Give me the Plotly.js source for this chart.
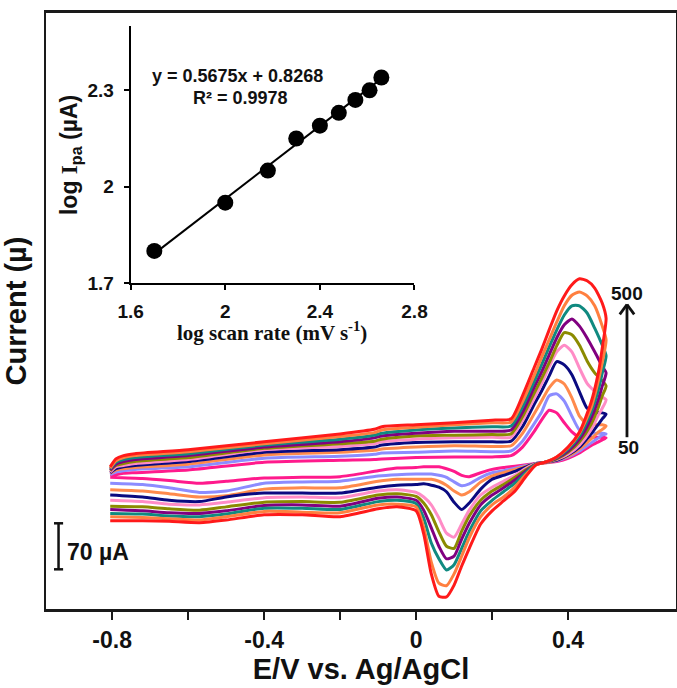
<!DOCTYPE html>
<html>
<head>
<meta charset="utf-8">
<script src="https://cdn.plot.ly/plotly-3.0.1.min.js"></script>
<style>
  html, body { margin: 0; padding: 0; background: #ffffff; }
  #cv { width: 677px; height: 688px; }
</style>
</head>
<body>
<div id="cv"></div>
<script>
// ---- Cyclic voltammograms at scan rates 50-500 mV/s ----
// Potential (V vs. Ag/AgCl): forward (anodic) sweep, then reverse sweep
const potentialForward = [-0.805, -0.79, -0.77, -0.74, -0.6, -0.4, -0.2, -0.11, -0.09, 0.0, 0.1, 0.2,
                          0.25, 0.28, 0.31, 0.33, 0.35, 0.37, 0.39, 0.41, 0.43, 0.45, 0.47, 0.49, 0.5];
const potentialReverse = [0.49, 0.48, 0.46, 0.43, 0.40, 0.37, 0.34, 0.316, 0.29, 0.26, 0.23, 0.2,
                          0.17, 0.14, 0.12, 0.10, 0.08, 0.06, 0.04, 0.02, 0.0,
                          -0.05, -0.1, -0.2, -0.3, -0.4, -0.5, -0.57, -0.65, -0.72, -0.805];

const scanRates = [50, 100, 150, 200, 250, 300, 350, 400, 450, 500];
const lineColors = ['#FF1A8C', '#8C8CFF', '#FF8A4C', '#0A0A80', '#FF8CC6',
                    '#8B8B00', '#800080', '#108A80', '#FF7F3F', '#FF1A1A'];

// Current (µA) on the forward and reverse sweeps
const fwd50  = [-19, -17, -15, -14, -10, 2, 5, 6, 7, 9, 10, 10, 12, 25, 48, 66, 81, 77, 62, 48, 40, 40, 40, 40, 39];
const rev50  = [36, 33, 27, 16, 8, 3, 1, 0, -2, -4, -6, -9, -14, -20, -18, -12, -8, -5, -5, -5, -6, -7, -11, -20, -21, -22, -27, -30, -26, -23, -21];
const fwd100 = [-17, -13, -11, -9, -5, 8, 11, 14, 16, 17, 19, 18, 19, 34, 60, 78, 103, 106, 95, 72, 51, 48, 46, 46, 45];
const rev100 = [43, 39, 31, 19, 10, 4, 1, 0, -3, -7, -11, -14, -21, -31, -34, -28, -21, -18, -16, -16, -16, -17, -19, -27, -28, -30, -42, -44, -37, -32, -30];
const fwd150 = [-15, -10, -8, -6, -1, 13, 17, 20, 22, 25, 27, 26, 27, 46, 75, 95, 115, 127, 121, 100, 72, 60, 59, 59, 57];
const rev150 = [52, 48, 37, 22, 11, 5, 1, 0, -4, -9, -14, -19, -28, -43, -48, -42, -33, -27, -24, -24, -24, -24, -27, -37, -37, -39, -49, -51, -46, -42, -40];
const fwd200 = [-14, -8, -5, -3, 3, 17, 21, 25, 28, 32, 33, 33, 34, 56, 89, 110, 133, 155, 150, 135, 109, 84, 78, 77, 75];
const rev200 = [68, 60, 45, 25, 13, 5, 2, 0, -5, -12, -18, -24, -39, -60, -70, -59, -43, -36, -33, -31, -32, -33, -36, -45, -45, -45, -51, -58, -56, -51, -48];
const fwd250 = [-13, -5, -3, 0, 6, 21, 26, 30, 33, 37, 39, 40, 40, 65, 98, 121, 147, 170, 180, 170, 145, 122, 110, 101, 97];
const rev250 = [84, 74, 51, 28, 14, 6, 2, 0, -7, -18, -27, -36, -48, -71, -92, -112, -106, -83, -63, -51, -44, -40, -42, -52, -51, -52, -59, -63, -62, -58, -56];
const fwd300 = [-11, -3, 0, 3, 9, 23, 30, 34, 37, 42, 43, 44, 45, 71, 106, 129, 153, 179, 199, 196, 180, 156, 138, 126, 118];
const rev300 = [103, 86, 59, 33, 17, 7, 2, -1, -9, -21, -32, -42, -56, -80, -103, -129, -126, -104, -78, -60, -50, -46, -48, -59, -58, -59, -66, -71, -69, -66, -65];
const fwd350 = [-10, -1, 3, 6, 12, 25, 33, 39, 42, 46, 49, 49, 51, 78, 115, 139, 165, 191, 211, 220, 209, 191, 170, 148, 138];
const rev350 = [118, 98, 68, 37, 19, 8, 2, -1, -11, -25, -37, -48, -63, -91, -115, -141, -145, -126, -98, -71, -56, -51, -53, -65, -63, -64, -72, -76, -75, -72, -70];
const fwd400 = [-8, 2, 6, 9, 15, 28, 37, 43, 46, 51, 54, 56, 57, 86, 124, 150, 177, 203, 226, 240, 240, 229, 206, 180, 164];
const rev400 = [138, 113, 77, 42, 22, 9, 2, -1, -13, -30, -43, -56, -72, -103, -129, -154, -162, -145, -121, -83, -61, -56, -58, -70, -68, -68, -77, -81, -80, -77, -76];
const fwd450 = [-7, 4, 9, 12, 18, 30, 41, 47, 51, 55, 59, 62, 63, 94, 133, 161, 188, 215, 240, 256, 261, 255, 240, 209, 188];
const rev450 = [154, 127, 84, 46, 24, 10, 2, -2, -16, -36, -51, -63, -81, -113, -141, -168, -186, -182, -150, -97, -66, -62, -63, -75, -74, -73, -81, -86, -84, -82, -81];
const fwd500 = [-5, 7, 12, 15, 21, 33, 45, 52, 56, 59, 62, 66, 68, 103, 145, 173, 203, 232, 255, 272, 281, 278, 267, 244, 221];
const rev500 = [176, 139, 92, 48, 25, 10, 2, -2, -19, -42, -57, -72, -92, -129, -156, -185, -203, -202, -168, -107, -72, -66, -69, -81, -78, -78, -86, -90, -88, -87, -87];

// ---- Inset: log peak current vs log scan rate ----
const logScanRate = [1.70, 2.00, 2.18, 2.30, 2.40, 2.48, 2.55, 2.61, 2.66];
const logIpa      = [1.80, 1.95, 2.05, 2.15, 2.19, 2.23, 2.27, 2.30, 2.34];
const fitSlope = 0.5675;
const fitIntercept = 0.8268;
const fitR2 = 0.9978;

// Scale bar (µA)
const scaleBarSize = 70;
const scaleBarTop = -91;

// Tick labels
const mainTicks = [-0.8, -0.4, 0, 0.4];
const mainMinorTicks = [-0.6, -0.2, 0.2];
const insetXTicks = [1.6, 2, 2.4, 2.8];
const insetYTicks = [1.7, 2, 2.3];

const forwardSets = [fwd50, fwd100, fwd150, fwd200, fwd250, fwd300, fwd350, fwd400, fwd450, fwd500];
const reverseSets = [rev50, rev100, rev150, rev200, rev250, rev300, rev350, rev400, rev450, rev500];

const SANS = 'Liberation Sans, Arial, sans-serif';
const SERIF = 'Liberation Serif, Times New Roman, serif';
const INK = '#111111';

const traces = [];
scanRates.forEach((rate, i) => {
  traces.push({
    type: 'scatter', mode: 'lines',
    name: rate + ' mV/s',
    x: potentialForward.concat(potentialReverse),
    y: forwardSets[i].concat(reverseSets[i]),
    xaxis: 'x', yaxis: 'y',
    line: { color: lineColors[i], width: 3, shape: 'spline', smoothing: 0.6 },
    hoverinfo: 'skip'
  });
});

// Regression line of the inset
const fitX = [logScanRate[0], logScanRate[logScanRate.length - 1]];
traces.push({
  type: 'scatter', mode: 'lines',
  x: fitX, y: fitX.map(v => fitSlope * v + fitIntercept),
  xaxis: 'x2', yaxis: 'y2',
  line: { color: '#000', width: 2 }, hoverinfo: 'skip'
});
traces.push({
  type: 'scatter', mode: 'markers',
  x: logScanRate, y: logIpa,
  xaxis: 'x2', yaxis: 'y2',
  marker: { color: '#000', size: 16 }, hoverinfo: 'skip'
});

// scale bar and scan-rate arrow geometry (data units)
const barX = -0.941, capHalf = 0.012;
const barLine = { color: INK, width: 2.5 };
const arrowX = 0.555, arrowTail = 40, arrowHead = 242, headHalf = 0.019, headDrop = 15;
const arrowLine = { color: INK, width: 2.8 };

const layout = {
  width: 677, height: 688,
  margin: { l: 46, r: 1, t: 13, b: 79 },
  paper_bgcolor: '#ffffff', plot_bgcolor: 'rgba(0,0,0,0)',
  showlegend: false,
  font: { family: SANS, color: INK, weight: 'bold' },
  xaxis: {
    range: [-0.974, 0.684], showgrid: false, zeroline: false,
    showline: true, mirror: true, linecolor: '#1a1a1a', linewidth: 3,
    ticks: 'outside', ticklen: 8, tickwidth: 2.5, tickcolor: '#1a1a1a',
    tickmode: 'array', tickvals: mainTicks, ticktext: mainTicks.map(v => v === 0 ? '0' : v.toFixed(1)),
    minor: { tickmode: 'array', tickvals: mainMinorTicks, ticks: 'outside', ticklen: 8, tickwidth: 2.5, tickcolor: '#1a1a1a' },
    tickfont: { family: SANS, size: 23, weight: 'bold', color: INK },
    ticklabelstandoff: 0,
    title: { text: 'E/V vs. Ag/AgCl', font: { family: SANS, size: 29, weight: 'bold', color: INK }, standoff: 0 },
    automargin: false, fixedrange: true
  },
  yaxis: {
    range: [-221.4, 685.5], showgrid: false, zeroline: false,
    showline: true, mirror: true, linecolor: '#1a1a1a', linewidth: 2.5,
    ticks: '', showticklabels: false,
    title: { text: 'Current (µ)', font: { family: SANS, size: 29, weight: 'bold', color: INK }, standoff: 11 },
    automargin: false, fixedrange: true
  },
  xaxis2: {
    domain: [0.1344, 0.5849], anchor: 'y2', range: [1.6, 2.8],
    showgrid: false, zeroline: false, showline: true, linecolor: '#000', linewidth: 2,
    ticks: 'outside', ticklen: 5, tickwidth: 2, tickcolor: '#000',
    tickmode: 'array', tickvals: insetXTicks, ticktext: insetXTicks.map(String),
    tickfont: { family: SANS, size: 19, weight: 'bold', color: INK },
    ticklabelstandoff: 5, automargin: false, fixedrange: true
  },
  yaxis2: {
    domain: [0.547, 0.978], anchor: 'x2', range: [1.7, 2.5],
    showgrid: false, zeroline: false, showline: true, linecolor: '#000', linewidth: 2,
    ticks: 'outside', ticklen: 5, tickwidth: 2, tickcolor: '#000',
    tickmode: 'array', tickvals: insetYTicks, ticktext: insetYTicks.map(String),
    tickfont: { family: SANS, size: 19, weight: 'bold', color: INK },
    ticklabelstandoff: 6, automargin: false, fixedrange: true
  },
  shapes: [
    // 70 µA scale bar
    { type: 'line', xref: 'x', yref: 'y', x0: barX, x1: barX, y0: scaleBarTop - scaleBarSize, y1: scaleBarTop, line: barLine },
    { type: 'line', xref: 'x', yref: 'y', x0: barX - capHalf, x1: barX + capHalf, y0: scaleBarTop, y1: scaleBarTop, line: barLine },
    { type: 'line', xref: 'x', yref: 'y', x0: barX - capHalf, x1: barX + capHalf, y0: scaleBarTop - scaleBarSize, y1: scaleBarTop - scaleBarSize, line: barLine },
    // increasing scan-rate arrow
    { type: 'line', xref: 'x', yref: 'y', x0: arrowX, x1: arrowX, y0: arrowTail, y1: arrowHead, line: arrowLine },
    { type: 'line', xref: 'x', yref: 'y', x0: arrowX - headHalf, x1: arrowX, y0: arrowHead - headDrop, y1: arrowHead, line: arrowLine },
    { type: 'line', xref: 'x', yref: 'y', x0: arrowX + headHalf, x1: arrowX, y0: arrowHead - headDrop, y1: arrowHead, line: arrowLine }
  ],
  annotations: [
    { xref: 'x', yref: 'y', x: -0.924, y: scaleBarTop - scaleBarSize / 2 - 8, text: scaleBarSize + ' µA',
      xanchor: 'left', yanchor: 'middle', showarrow: false,
      font: { family: SANS, size: 23, weight: 'bold', color: INK } },
    { xref: 'x', yref: 'y', x: 0.555, y: 259, text: String(scanRates[scanRates.length - 1]), showarrow: false,
      xanchor: 'center', yanchor: 'middle',
      font: { family: SANS, size: 19, weight: 'bold', color: INK } },
    { xref: 'x', yref: 'y', x: 0.558, y: 25, text: String(scanRates[0]), showarrow: false,
      xanchor: 'center', yanchor: 'middle',
      font: { family: SANS, size: 19, weight: 'bold', color: INK } },
    // inset equation
    { xref: 'x2', yref: 'y2', x: 2.05, y: 2.344, showarrow: false, xanchor: 'center', yanchor: 'middle',
      text: 'y = ' + fitSlope.toFixed(4) + 'x + ' + fitIntercept.toFixed(4),
      font: { family: SANS, size: 18, weight: 'bold', color: INK } },
    { xref: 'x2', yref: 'y2', x: 2.063, y: 2.275, showarrow: false, xanchor: 'center', yanchor: 'middle',
      text: 'R² = ' + fitR2.toFixed(4),
      font: { family: SANS, size: 18, weight: 'bold', color: INK } },
    // inset axis titles
    { xref: 'paper', yref: 'paper', x: 0.3587, y: 0.4648, showarrow: false, xanchor: 'center', yanchor: 'middle',
      text: 'log scan rate (mV s<sup>-1</sup>)',
      font: { family: SERIF, size: 21, weight: 'bold', color: INK } },
    { xref: 'paper', yref: 'paper', x: 0.0381, y: 0.7617, showarrow: false, textangle: -90,
      xanchor: 'center', yanchor: 'middle',
      text: 'log <span style="font-family:Liberation Serif">I</span><sub>pa</sub> (µA)',
      font: { family: SANS, size: 23, weight: 'bold', color: INK } }
  ]
};

Plotly.newPlot('cv', traces, layout, { staticPlot: true, displayModeBar: false });
</script>
</body>
</html>
